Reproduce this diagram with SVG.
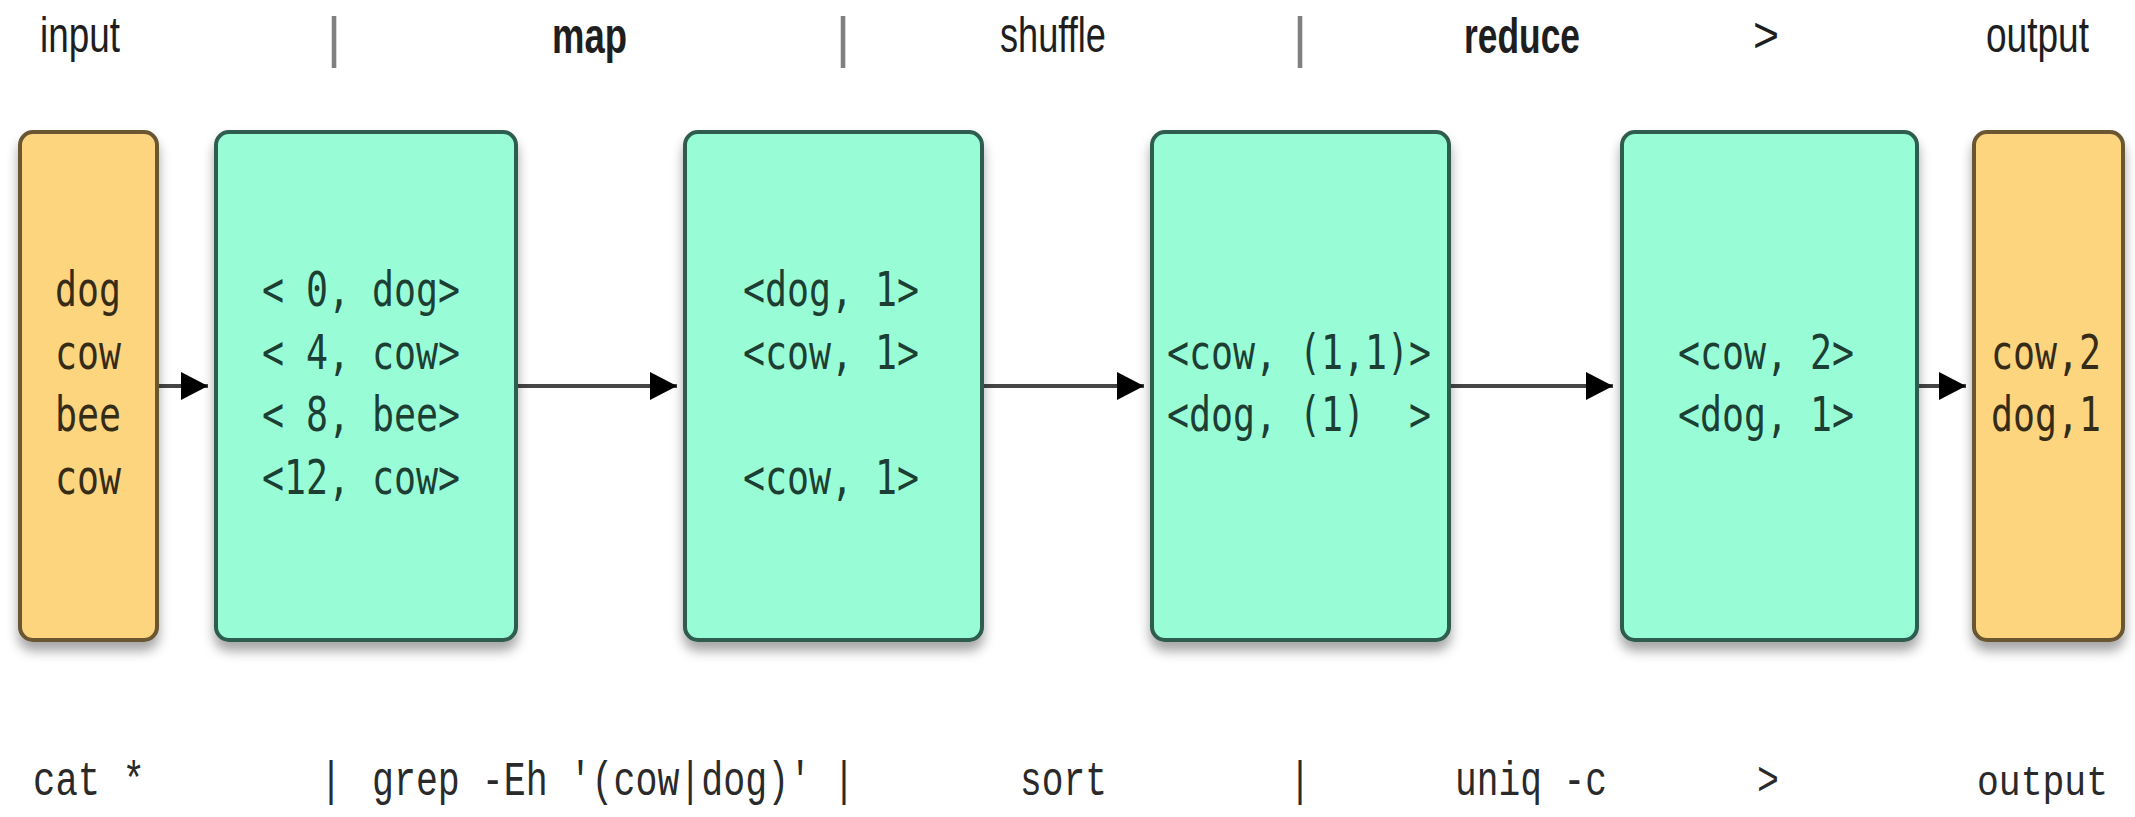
<svg xmlns="http://www.w3.org/2000/svg" width="2135" height="817" viewBox="0 0 2135 817">
<style>
.lbl{font-family:"Liberation Sans",Arial,sans-serif;font-size:50px;fill:#1e1e1e}
.b{font-weight:bold}
.sep{font-family:"Liberation Sans",Arial,sans-serif;font-size:56px;fill:#808080;text-anchor:middle}
.cmd{font-family:"Liberation Mono","Courier New",monospace;font-size:48px;fill:#2a2a2a}
.g{fill:#98fcd7;stroke:#2f5d4f;stroke-width:4}
.o{fill:#fdd57e;stroke:#6a5632;stroke-width:4}
.tg{font-family:"DejaVu Sans Mono",monospace;font-size:48px;fill:#1d3f33}
.to{font-family:"DejaVu Sans Mono",monospace;font-size:48px;fill:#352c18}
.conn{stroke:#454545;stroke-width:4;fill:none}
</style>
<defs>
<filter id="sh" x="-20%" y="-10%" width="140%" height="125%">
<feDropShadow dx="0" dy="9" stdDeviation="6" flood-color="#000" flood-opacity="0.35"/>
</filter>
<marker id="ah" markerUnits="userSpaceOnUse" markerWidth="28" markerHeight="30" refX="27" refY="14" orient="auto">
<path d="M0,0 L27,14 L0,28 Z" fill="#000"/>
</marker>
</defs>
<rect width="2135" height="817" fill="#fff"/>

<g id="header">
<text class="lbl" x="40" y="52" textLength="80" lengthAdjust="spacingAndGlyphs">input</text>
<text class="sep" x="334" y="56">|</text>
<text class="lbl b" x="552" y="53" textLength="75" lengthAdjust="spacingAndGlyphs">map</text>
<text class="sep" x="843" y="56">|</text>
<text class="lbl" x="1000" y="52" textLength="106" lengthAdjust="spacingAndGlyphs">shuffle</text>
<text class="sep" x="1300" y="56">|</text>
<text class="lbl b" x="1464" y="53" textLength="116" lengthAdjust="spacingAndGlyphs">reduce</text>
<text class="lbl" x="1753" y="52" textLength="26" lengthAdjust="spacingAndGlyphs">&gt;</text>
<text class="lbl" x="1986" y="52" textLength="103" lengthAdjust="spacingAndGlyphs">output</text>
</g>

<g id="connectors">
<line class="conn" x1="159" y1="386" x2="208" y2="386" marker-end="url(#ah)"/>
<line class="conn" x1="518" y1="386" x2="677" y2="386" marker-end="url(#ah)"/>
<line class="conn" x1="984" y1="386" x2="1144" y2="386" marker-end="url(#ah)"/>
<line class="conn" x1="1451" y1="386" x2="1613" y2="386" marker-end="url(#ah)"/>
<line class="conn" x1="1919" y1="386" x2="1966" y2="386" marker-end="url(#ah)"/>
</g>

<g id="node-input">
<rect class="o" x="20" y="132" width="137" height="508" rx="13" filter="url(#sh)"/>
<text class="to" x="88" y="306" text-anchor="middle" textLength="66" lengthAdjust="spacingAndGlyphs">dog</text>
<text class="to" x="88" y="369" text-anchor="middle" textLength="66" lengthAdjust="spacingAndGlyphs">cow</text>
<text class="to" x="88" y="431" text-anchor="middle" textLength="66" lengthAdjust="spacingAndGlyphs">bee</text>
<text class="to" x="88" y="494" text-anchor="middle" textLength="66" lengthAdjust="spacingAndGlyphs">cow</text>
</g>

<g id="node-map">
<rect class="g" x="216" y="132" width="300" height="508" rx="13" filter="url(#sh)"/>
<text class="tg" x="262" y="306" textLength="198" lengthAdjust="spacingAndGlyphs" xml:space="preserve">&lt; 0, dog&gt;</text>
<text class="tg" x="262" y="369" textLength="198" lengthAdjust="spacingAndGlyphs" xml:space="preserve">&lt; 4, cow&gt;</text>
<text class="tg" x="262" y="431" textLength="198" lengthAdjust="spacingAndGlyphs" xml:space="preserve">&lt; 8, bee&gt;</text>
<text class="tg" x="262" y="494" textLength="198" lengthAdjust="spacingAndGlyphs" xml:space="preserve">&lt;12, cow&gt;</text>
</g>

<g id="node-shuffle">
<rect class="g" x="685" y="132" width="297" height="508" rx="13" filter="url(#sh)"/>
<text class="tg" x="743" y="306" textLength="176" lengthAdjust="spacingAndGlyphs" xml:space="preserve">&lt;dog, 1&gt;</text>
<text class="tg" x="743" y="369" textLength="176" lengthAdjust="spacingAndGlyphs" xml:space="preserve">&lt;cow, 1&gt;</text>
<text class="tg" x="743" y="494" textLength="176" lengthAdjust="spacingAndGlyphs" xml:space="preserve">&lt;cow, 1&gt;</text>
</g>

<g id="node-group">
<rect class="g" x="1152" y="132" width="297" height="508" rx="13" filter="url(#sh)"/>
<text class="tg" x="1167" y="369" textLength="264" lengthAdjust="spacingAndGlyphs" xml:space="preserve">&lt;cow, (1,1)&gt;</text>
<text class="tg" x="1167" y="431" textLength="264" lengthAdjust="spacingAndGlyphs" xml:space="preserve">&lt;dog, (1)  &gt;</text>
</g>

<g id="node-reduce">
<rect class="g" x="1622" y="132" width="295" height="508" rx="13" filter="url(#sh)"/>
<text class="tg" x="1678" y="369" textLength="176" lengthAdjust="spacingAndGlyphs" xml:space="preserve">&lt;cow, 2&gt;</text>
<text class="tg" x="1678" y="431" textLength="176" lengthAdjust="spacingAndGlyphs" xml:space="preserve">&lt;dog, 1&gt;</text>
</g>

<g id="node-output">
<rect class="o" x="1974" y="132" width="149" height="508" rx="13" filter="url(#sh)"/>
<text class="to" x="1991" y="369" textLength="110" lengthAdjust="spacingAndGlyphs">cow,2</text>
<text class="to" x="1991" y="431" textLength="110" lengthAdjust="spacingAndGlyphs">dog,1</text>
</g>

<g id="footer">
<text class="cmd" x="33" y="795" textLength="112" lengthAdjust="spacingAndGlyphs" xml:space="preserve">cat *</text>
<text class="cmd" x="320" y="795" textLength="22" lengthAdjust="spacingAndGlyphs">|</text>
<text class="cmd" x="372" y="795" textLength="483" lengthAdjust="spacingAndGlyphs" xml:space="preserve">grep -Eh '(cow|dog)' |</text>
<text class="cmd" x="1020" y="795" textLength="87" lengthAdjust="spacingAndGlyphs">sort</text>
<text class="cmd" x="1289" y="795" textLength="22" lengthAdjust="spacingAndGlyphs">|</text>
<text class="cmd" x="1455" y="795" textLength="152" lengthAdjust="spacingAndGlyphs" xml:space="preserve">uniq -c</text>
<text class="cmd" x="1757" y="795" textLength="22" lengthAdjust="spacingAndGlyphs">&gt;</text>
<text class="cmd" x="1977" y="795" style="font-size:43px" textLength="131" lengthAdjust="spacingAndGlyphs">output</text>
</g>
</svg>
